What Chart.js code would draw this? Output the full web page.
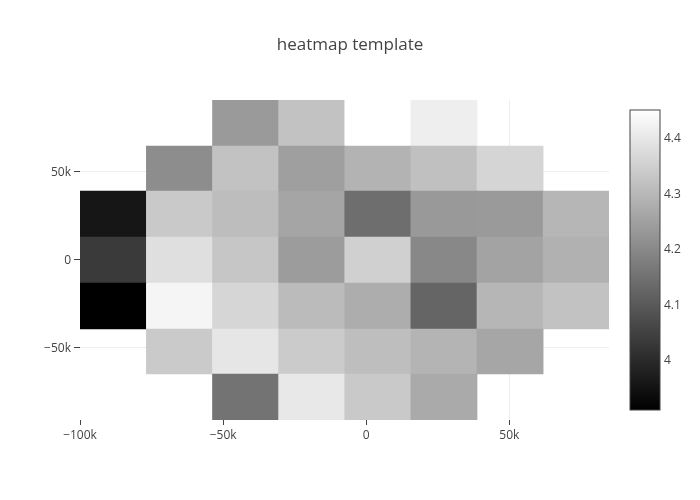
<!DOCTYPE html>
<html>
<head>
<meta charset="utf-8">
<style>html,body{margin:0;padding:0;background:#fff}canvas{display:block}</style>
<script src="https://cdn.jsdelivr.net/npm/chart.js@4"></script>
</head>
<body>
<canvas id="c" width="700" height="500"></canvas>
<script>
const titleText = "heatmap template";
const xCenters = [-88360, -65260, -42160, -19060, 4040, 27140, 50240, 73340];
const yEdges = [90500, 64366, 38801, 12667, -13469, -39601, -65166, -91300];
const row0 = [null, null, 4.236, 4.321, 4.45, 4.414, null, null];
const row1 = [null, 4.209, 4.321, 4.247, 4.289, 4.317, 4.361, null];
const row2 = [3.957, 4.336, 4.310, 4.259, 4.143, 4.234, 4.236, 4.295];
const row3 = [4.033, 4.382, 4.329, 4.240, 4.350, 4.198, 4.255, 4.285];
const row4 = [3.910, 4.429, 4.363, 4.306, 4.276, 4.124, 4.295, 4.321];
const row5 = [null, 4.338, 4.397, 4.340, 4.312, 4.291, 4.262, null];
const row6 = [null, null, 4.154, 4.401, 4.336, 4.270, null, null];
const rows = [row0, row1, row2, row3, row4, row5, row6];
const xTicks = [-100000, -50000, 0, 50000];
const xTickLabels = ["\u2212100k", "\u221250k", "0", "50k"];
const yTicks = [50000, 0, -50000];
const yTickLabels = ["50k", "0", "\u221250k"];
const cbTicks = [4, 4.1, 4.2, 4.3, 4.4];
const cbTickLabels = ["4", "4.1", "4.2", "4.3", "4.4"];
const colorMin = 3.91, colorMax = 4.45;

function grey(v) {
  const g = Math.round(255 * (v - colorMin) / (colorMax - colorMin));
  return `rgb(${g},${g},${g})`;
}
const cells = [], colors = [];
rows.forEach((row, r) => row.forEach((v, c) => {
  if (v === null) return;
  cells.push({x: xCenters[c], y: [yEdges[r + 1], yEdges[r]]});
  colors.push(grey(v));
}));

const colorbar = {
  id: 'colorbar',
  afterDraw(chart) {
    const s = chart.scales.cb, ctx = chart.ctx;
    const top = Math.round(s.getPixelForValue(colorMax)), bottom = Math.round(s.getPixelForValue(colorMin));
    const left = 630, w = 30;
    const g = ctx.createLinearGradient(0, bottom, 0, top);
    g.addColorStop(0, '#000');
    g.addColorStop(1, '#fff');
    ctx.save();
    ctx.fillStyle = g;
    ctx.fillRect(left, top, w, bottom - top);
    ctx.strokeStyle = '#444';
    ctx.lineWidth = 1;
    ctx.strokeRect(left, top, w, bottom - top);
    ctx.restore();
  }
};

const tickFont = {family: '"Open Sans"', size: 12};
new Chart(document.getElementById('c'), {
  type: 'bar',
  data: {datasets: [{data: cells, backgroundColor: colors, barPercentage: 1, categoryPercentage: 1, borderWidth: 0, inflateAmount: 0.33}]},
  plugins: [colorbar],
  options: {
    responsive: false,
    animation: false,
    devicePixelRatio: 1,
    layout: {padding: 0},
    plugins: {
      legend: {display: false},
      tooltip: {enabled: false},
      title: {
        display: true, text: titleText, color: '#444',
        font: {family: '"Open Sans"', size: 17, weight: 'normal'},
        padding: {top: 35, bottom: 44.6}
      }
    },
    scales: {
      x: {
        type: 'linear', min: -100000, max: 84800, offset: false,
        afterBuildTicks: s => { s.ticks = xTicks.map(value => ({value})); },
        afterFit: s => { s.height = 80; },
        border: {display: false},
        grid: {offset: false, tickLength: 5, tickColor: '#444', tickWidth: 1,
          color: c => c.tick && c.tick.value === xTicks[0] ? 'rgba(0,0,0,0)' : '#eee'},
        ticks: {color: '#444', font: tickFont, padding: 3, maxRotation: 0, autoSkip: false,
          callback: (v) => xTickLabels[xTicks.indexOf(v)]}
      },
      y: {
        type: 'linear', min: -91300, max: 90500, beginAtZero: false,
        afterBuildTicks: s => { s.ticks = yTicks.map(value => ({value})); },
        afterFit: s => { s.width = 80; },
        border: {display: false},
        grid: {color: '#eee', tickLength: 6, tickColor: '#444', tickWidth: 1},
        ticks: {color: '#444', font: tickFont, padding: 3, autoSkip: false, labelOffset: 1,
          callback: (v) => yTickLabels[yTicks.indexOf(v)]}
      },
      cb: {
        axis: 'y', type: 'linear', position: 'right', min: 3.892, max: 4.468,
        afterBuildTicks: s => { s.ticks = cbTicks.map(value => ({value})); },
        afterFit: s => { s.width = 91; },
        border: {display: false},
        grid: {display: false, drawTicks: false},
        ticks: {color: '#444', font: tickFont, padding: 55, autoSkip: false, labelOffset: 1,
          callback: (v) => cbTickLabels[cbTicks.indexOf(v)]}
      }
    }
  }
});
</script>
</body>
</html>
